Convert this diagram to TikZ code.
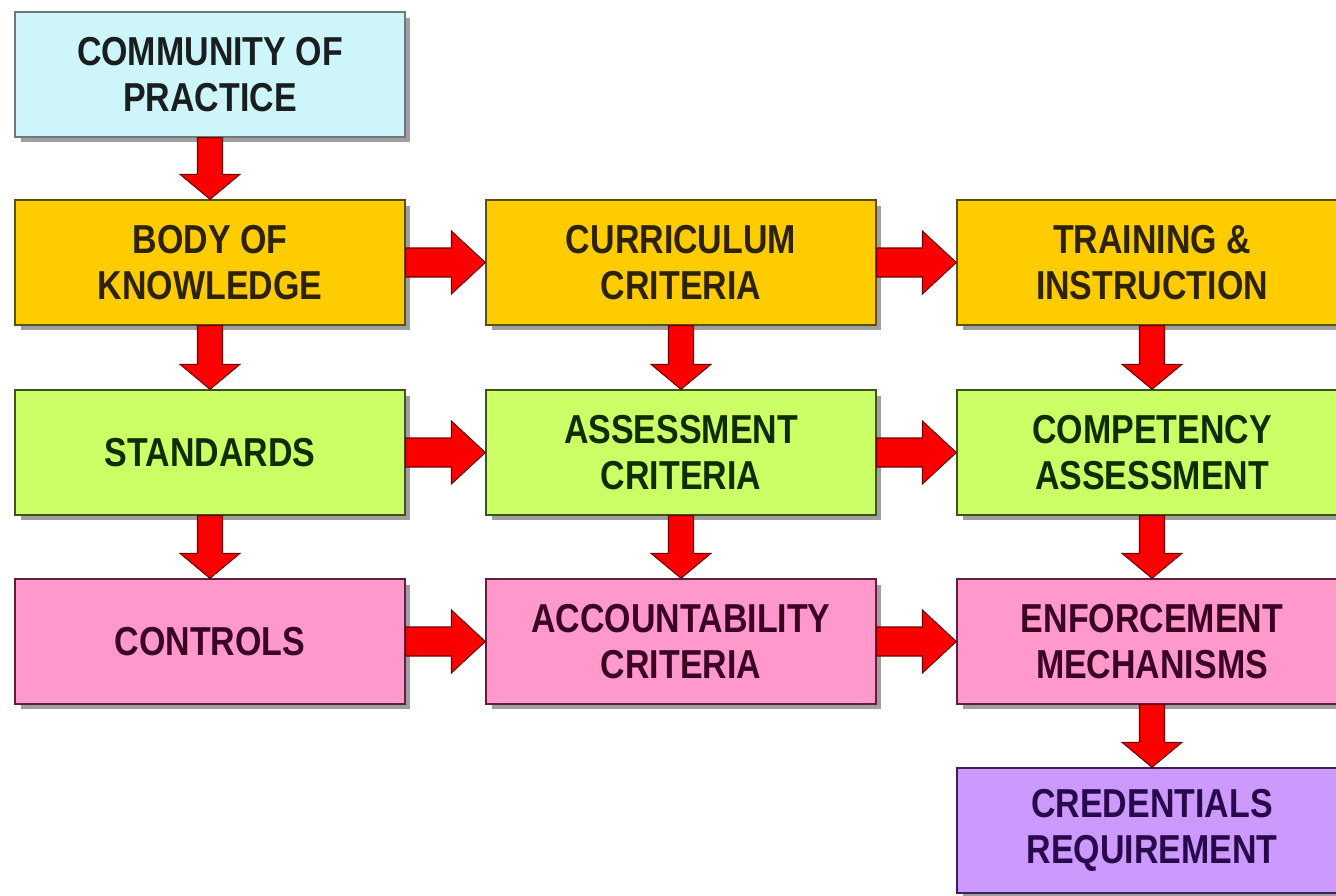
\documentclass[tikz,border=0pt]{standalone}
\usepackage{fontspec}
\usetikzlibrary{positioning,calc,shadows}
\newfontfamily\agboxfont{Liberation Sans}[FakeStretch=0.84]
\definecolor{agcyan}{RGB}{206,246,250}
\definecolor{agcyanline}{RGB}{110,120,125}
\definecolor{agcyantext}{RGB}{25,30,30}
\definecolor{aggold}{RGB}{255,204,0}
\definecolor{aggoldline}{RGB}{90,80,20}
\definecolor{aggoldtext}{RGB}{45,35,0}
\definecolor{aggreen}{RGB}{204,255,102}
\definecolor{aggreenline}{RGB}{60,85,30}
\definecolor{aggreentext}{RGB}{15,45,0}
\definecolor{agpink}{RGB}{255,153,204}
\definecolor{agpinkline}{RGB}{100,30,60}
\definecolor{agpinktext}{RGB}{60,0,35}
\definecolor{agpurple}{RGB}{204,153,255}
\definecolor{agpurpleline}{RGB}{60,30,90}
\definecolor{agpurpletext}{RGB}{40,10,75}
\definecolor{agred}{RGB}{250,0,0}
\definecolor{agredline}{RGB}{110,0,0}
\tikzstyle{agboxstyle}=[shape=rectangle,draw,line width=0.8pt,minimum width=7.8cm,minimum height=2.5cm,align=center,font=\agboxfont\bfseries\fontsize{23}{26.5}\selectfont,drop shadow={shadow xshift=0.11cm,shadow yshift=-0.11cm,opacity=0.5,fill=black!75}]
\tikzstyle{agcommstyle}=[agboxstyle,fill=agcyan,draw=agcyanline,text=agcyantext]
\tikzstyle{agknowstyle}=[agboxstyle,fill=aggold,draw=aggoldline,text=aggoldtext]
\tikzstyle{agassessstyle}=[agboxstyle,fill=aggreen,draw=aggreenline,text=aggreentext]
\tikzstyle{agcontrolstyle}=[agboxstyle,fill=agpink,draw=agpinkline,text=agpinktext]
\tikzstyle{agcredstyle}=[agboxstyle,fill=agpurple,draw=agpurpleline,text=agpurpletext]
\tikzstyle{agarrowstyle}=[fill=agred,draw=agredline,line width=0.6pt,line join=miter]
\newcommand{\agdownarrow}[2]{ \draw[style=agarrowstyle] ($(#1.south)+(-0.25cm,0)$) -- ($(#2.north)+(-0.25cm,0.5cm)$) -- ($(#2.north)+(-0.6cm,0.5cm)$) -- (#2.north) -- ($(#2.north)+(0.6cm,0.5cm)$) -- ($(#2.north)+(0.25cm,0.5cm)$) -- ($(#1.south)+(0.25cm,0)$) -- cycle; }
\newcommand{\agrightarrow}[2]{ \draw[style=agarrowstyle] ($(#1.east)+(0,0.29cm)$) -- ($(#2.west)+(-0.68cm,0.29cm)$) -- ($(#2.west)+(-0.68cm,0.63cm)$) -- (#2.west) -- ($(#2.west)+(-0.68cm,-0.63cm)$) -- ($(#2.west)+(-0.68cm,-0.29cm)$) -- ($(#1.east)+(0,-0.29cm)$) -- cycle; }
\begin{document}
\begin{tikzpicture}[x=0.02cm,y=-0.02cm]
\useasboundingbox (0,0) rectangle (1336,896);
\clip (0,0) rectangle (1336,896);

\node[agcommstyle] (community) at (210,74.5) {COMMUNITY OF\\PRACTICE}; %
\node[agknowstyle] (body) at (210,262.5) {BODY OF\\KNOWLEDGE}; %
\node[agknowstyle] (curriculum) at (681,262.5) {CURRICULUM\\CRITERIA}; %
\node[agknowstyle] (training) at (1152,262.5) {TRAINING \&\\INSTRUCTION}; %
\node[agassessstyle] (standards) at (210,452.5) {STANDARDS}; %
\node[agassessstyle] (assessment) at (681,452.5) {ASSESSMENT\\CRITERIA}; %
\node[agassessstyle] (competency) at (1152,452.5) {COMPETENCY\\ASSESSMENT}; %
\node[agcontrolstyle] (controls) at (210,641.5) {CONTROLS}; %
\node[agcontrolstyle] (accountability) at (681,641.5) {ACCOUNTABILITY\\CRITERIA}; %
\node[agcontrolstyle] (enforcement) at (1152,641.5) {ENFORCEMENT\\MECHANISMS}; %
\node[agcredstyle] (credentials) at (1152,830.5) {CREDENTIALS\\REQUIREMENT}; %

\agdownarrow{community}{body} %
\agdownarrow{body}{standards} %
\agdownarrow{standards}{controls} %
\agdownarrow{curriculum}{assessment} %
\agdownarrow{assessment}{accountability} %
\agdownarrow{training}{competency} %
\agdownarrow{competency}{enforcement} %
\agdownarrow{enforcement}{credentials} %
\agrightarrow{body}{curriculum} %
\agrightarrow{curriculum}{training} %
\agrightarrow{standards}{assessment} %
\agrightarrow{assessment}{competency} %
\agrightarrow{controls}{accountability} %
\agrightarrow{accountability}{enforcement} %
\end{tikzpicture}
\end{document}
